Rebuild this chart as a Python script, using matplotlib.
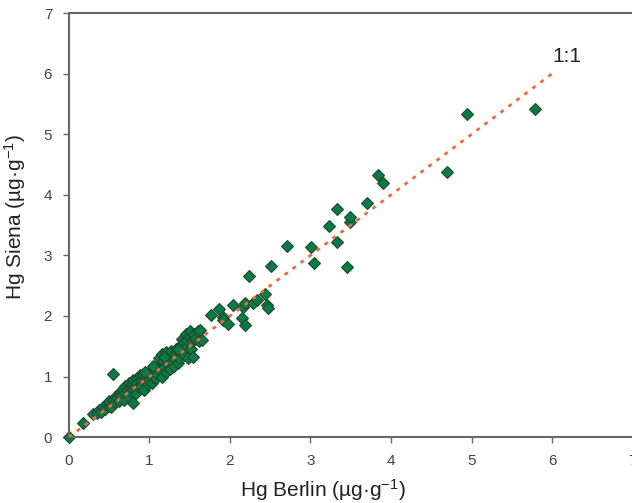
"""Hg inter-laboratory comparison: Berlin vs Siena."""
import matplotlib
matplotlib.use("Agg")
import matplotlib.pyplot as plt

plt.rcParams['font.family'] = ['Liberation Sans', 'DejaVu Sans']
plt.rcParams['mathtext.fontset'] = 'custom'
plt.rcParams['mathtext.rm'] = 'Liberation Sans'
plt.rcParams['mathtext.it'] = 'Liberation Sans:italic'

# Hg concentrations (ug/g) measured in Berlin (x) and Siena (y)
hg_berlin = [
    0.00, 0.17, 0.30, 0.35, 0.38, 0.40, 0.42, 0.45, 0.47, 0.50,
    0.50, 0.52, 0.55, 0.55, 0.57, 0.58, 0.60, 0.62, 0.62, 0.65,
    0.65, 0.67, 0.68, 0.70, 0.70, 0.72, 0.73, 0.75, 0.75, 0.77,
    0.78, 0.80, 0.80, 0.80, 0.82, 0.83, 0.85, 0.85, 0.87, 0.88,
    0.90, 0.90, 0.92, 0.93, 0.95, 0.97, 0.98, 1.00, 1.00, 1.02,
    1.03, 1.05, 1.07, 1.08, 1.10, 1.12, 1.12, 1.13, 1.15, 1.15,
    1.17, 1.18, 1.20, 1.20, 1.22, 1.23, 1.25, 1.25, 1.27, 1.28,
    1.30, 1.30, 1.32, 1.33, 1.35, 1.37, 1.38, 1.40, 1.40, 1.42,
    1.43, 1.45, 1.45, 1.47, 1.48, 1.50, 1.50, 1.52, 1.53, 1.55,
    1.54, 1.57, 1.60, 1.63, 1.62, 1.65, 1.05, 1.18, 1.35, 0.95,
    1.76, 1.86, 1.91, 1.91, 1.98, 2.04, 2.15, 2.19, 2.16, 2.19,
    2.24, 2.29, 2.33, 2.43, 2.46, 2.47, 2.51, 2.71, 3.01, 3.04,
    3.23, 3.33, 3.33, 3.49, 3.49, 3.45, 3.70, 3.84, 3.90, 4.69,
    4.94, 5.79,
]
hg_siena = [
    0.00, 0.23, 0.38, 0.40, 0.45, 0.42, 0.50, 0.47, 0.55, 0.52,
    0.60, 0.50, 0.62, 1.05, 0.58, 0.68, 0.65, 0.72, 0.60, 0.75,
    0.68, 0.80, 0.62, 0.72, 0.85, 0.78, 0.68, 0.82, 0.90, 0.75,
    0.88, 0.56, 0.95, 0.80, 0.85, 0.72, 0.98, 0.90, 0.82, 1.02,
    0.92, 0.85, 1.05, 0.78, 0.95, 1.00, 0.88, 1.05, 0.95, 1.10,
    0.90, 1.00, 1.12, 0.98, 1.05, 1.20, 1.30, 1.10, 1.38, 1.00,
    1.25, 1.15, 1.40, 1.08, 1.30, 1.20, 1.35, 1.12, 1.42, 1.25,
    1.18, 1.30, 1.38, 1.45, 1.22, 1.30, 1.50, 1.40, 1.62, 1.55,
    1.35, 1.70, 1.48, 1.60, 1.30, 1.65, 1.75, 1.45, 1.58, 1.70,
    1.32, 1.62, 1.75, 1.77, 1.58, 1.60, 1.18, 1.32, 1.45, 1.08,
    2.01, 2.11, 1.98, 1.93, 1.86, 2.18, 1.96, 1.85, 2.15, 2.21,
    2.66, 2.21, 2.26, 2.37, 2.18, 2.13, 2.82, 3.15, 3.14, 2.87,
    3.48, 3.22, 3.76, 3.55, 3.63, 2.81, 3.86, 4.32, 4.19, 4.37,
    5.33, 5.41,
]

# 1:1 reference line
ref_line = [0, 6]

fig = plt.figure(figsize=(6.32, 5.03), dpi=100)
ax = fig.add_axes([0.109, 0.131, 0.892, 0.843])

ax.plot(hg_berlin, hg_siena, linestyle='none', marker='D', markersize=6.5,
        markerfacecolor='#0b7a46', markeredgecolor='#1d4a2c',
        markeredgewidth=0.8, zorder=2, clip_on=False)
ax.plot(ref_line, ref_line, linestyle=(0, (1.4, 2.2)), color='#ea6a3c',
        linewidth=2, zorder=3)
ax.text(6.0, 6.12, '1:1', fontsize=15, color='#222222', ha='left', va='bottom')

ax.set_xlim(0, 7)
ax.set_ylim(0, 7)
ax.set_xticks(range(8))
ax.set_yticks(range(8))
ax.tick_params(direction='out', length=4, width=1, colors='#666666',
               labelcolor='#444444', labelsize=11, pad=8)
for side in ['left', 'bottom', 'top']:
    ax.spines[side].set_color('#666666')
    ax.spines[side].set_linewidth(1.5)
ax.spines['right'].set_visible(False)

ax.set_xlabel('Hg Berlin (µg·g$^{-1}$)', fontsize=15, color='#222222')
ax.set_ylabel('Hg Siena (µg·g$^{-1}$)', fontsize=15, color='#222222')
ax.xaxis.set_label_coords(0.45, -0.095)
ax.yaxis.set_label_coords(-0.072, 0.52)

plt.savefig('out.png', dpi=100)
plt.close()
